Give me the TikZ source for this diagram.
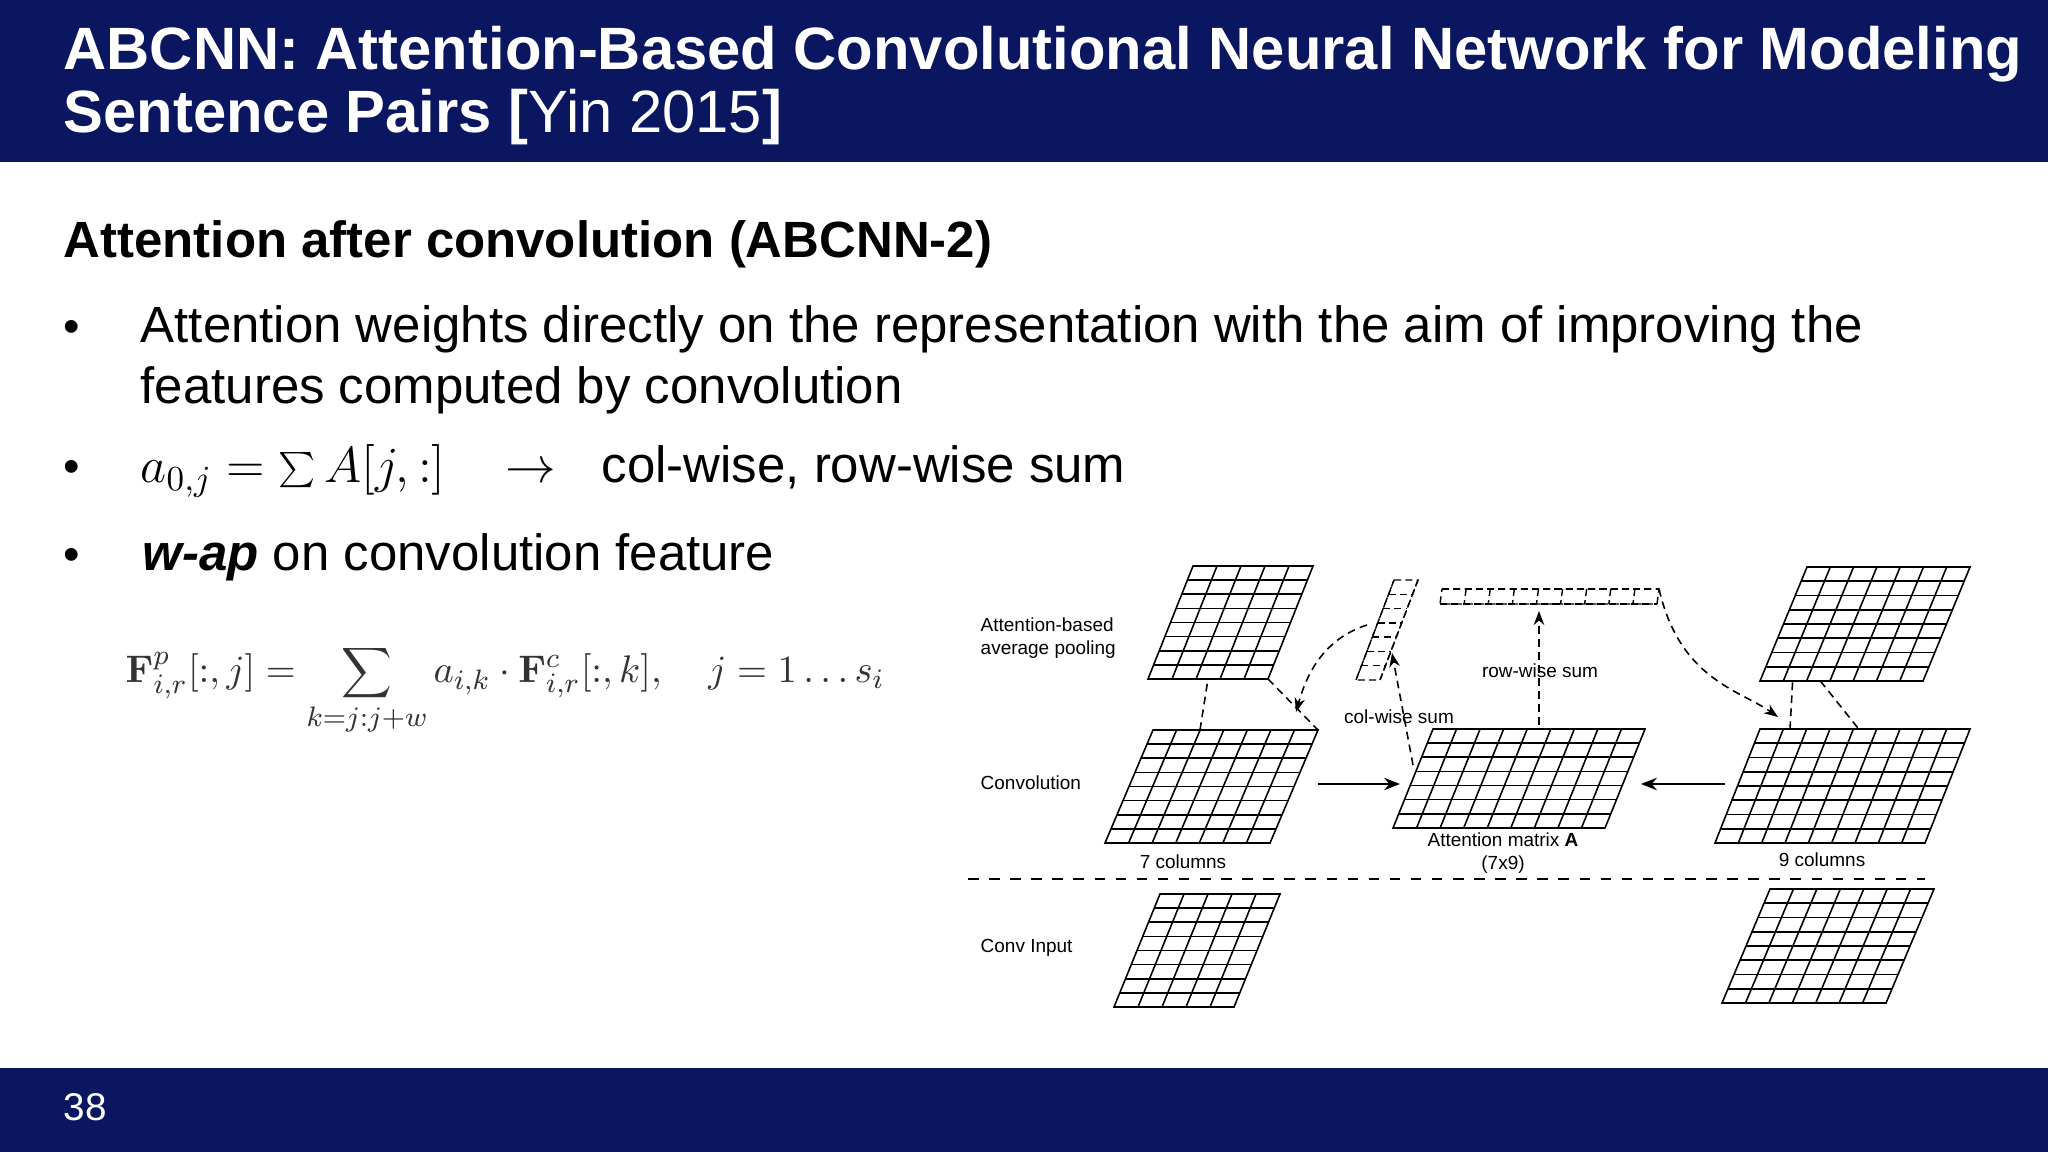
\documentclass[tikz,border=0pt]{standalone}
\usepackage[no-math]{fontspec}
\setmainfont{Liberation Sans}
\usetikzlibrary{calc,arrows.meta}
\definecolor{navy}{RGB}{10,22,96}
\newcommand\pgrid[6]{%
  \draw[gridline] (#1) -- (#2) -- (#4) -- (#3) -- cycle;
  \foreach \i in {1,...,\numexpr#5-1\relax}{\draw[gridline] ($(#1)!\i/#5!(#2)$) -- ($(#3)!\i/#5!(#4)$);}
  \foreach \j in {1,...,\numexpr#6-1\relax}{\draw[gridline] ($(#1)!\j/#6!(#3)$) -- ($(#2)!\j/#6!(#4)$);}
}
\newcommand\dgrid[6]{%
  \draw[dgridline] (#1) -- (#2) -- (#4) -- (#3) -- cycle;
  \foreach \i in {1,...,\numexpr#5-1\relax}{\draw[dgridline] ($(#1)!\i/#5!(#2)$) -- ($(#3)!\i/#5!(#4)$);}
  \foreach \j in {1,...,\numexpr#6-1\relax}{\draw[dgridline] ($(#1)!\j/#6!(#3)$) -- ($(#2)!\j/#6!(#4)$);}
}
\begin{document}
\begin{tikzpicture}[x=0.1mm,y=-0.1mm,
  gridline/.style={line width=0.45pt},
  dgridline/.style={line width=0.4pt,dash pattern=on 2pt off 1.2pt},
  dline/.style={line width=0.45pt,dash pattern=on 2.2pt off 1.5pt},
  darr/.style={dline,-{Stealth[length=4pt,width=3pt]}},
  sarr/.style={line width=0.6pt,-{Stealth[length=4.5pt,width=3.5pt]}},
  lab/.style={font=\fontsize{5.4}{6.5}\selectfont,inner sep=0pt},
  body/.style={font=\fontsize{14.5}{17.5}\selectfont,anchor=base west,inner sep=0pt},
  bul/.style={font=\fontsize{13.4}{16}\selectfont,anchor=base,inner sep=0pt}]
\useasboundingbox (0,0) rectangle (2048,1152);
\fill[white] (0,0) rectangle (2048,1152);
\fill[navy] (0,0) rectangle (2048,162);
\fill[navy] (0,1068) rectangle (2048,1152);
\node (t1) [anchor=base west,inner sep=0pt,text=white,font=\fontsize{17}{18}\bfseries] at (63,70) {ABCNN: Attention-Based Convolutional Neural Network for Modeling};
\node (t2) [anchor=base west,inner sep=0pt,text=white,font=\fontsize{17}{18}\selectfont] at (63,133) {\textbf{Sentence Pairs [}Yin 2015\textbf{]}};
\node (pg) [anchor=base west,inner sep=0pt,text=white,font=\fontsize{11}{13}\selectfont] at (63,1121) {38};

\node (sub) [body,font=\fontsize{14.5}{16}\bfseries] at (63,258) {Attention after convolution (ABCNN-2)};
\node (b1) [bul] at (72,343) {•};
\node (l1) [body] at (140,343) {Attention weights directly on the representation with the aim of improving the};
\node (l1b) [body] at (140,404) {features computed by convolution};
\node (b2) [bul] at (72,483) {•};
\node (m2) [body] at (140,483) {$a_{0,j} = \sum A[j,:]$};
\node (ar2) [body] at (505,483) {$\rightarrow$};
\node (l2) [body] at (601,483) {col-wise, row-wise sum};
\node (b3) [bul] at (72,571) {•};
\node (l3) [body] at (142,571) {\textbf{\itshape w-ap} on convolution feature};
\node (fm) [anchor=base west,inner sep=0pt,text=black!80,font=\fontsize{11.4}{13}\selectfont] at (125,683)
  {$\mathbf{F}^{p}_{i,r}[:,j] = \displaystyle\sum_{k=j:j+w} a_{i,k}\cdot \mathbf{F}^{c}_{i,r}[:,k],\quad j=1\ldots s_i$};

% grids
\coordinate (pl1) at (1193,566); \coordinate (pl2) at (1313,566);
\coordinate (pl3) at (1148,679); \coordinate (pl4) at (1268,679);
\pgrid{pl1}{pl2}{pl3}{pl4}{5}{8}
\coordinate (pr1) at (1807,567); \coordinate (pr2) at (1970,567);
\coordinate (pr3) at (1760,681); \coordinate (pr4) at (1923,681);
\pgrid{pr1}{pr2}{pr3}{pr4}{7}{8}
\coordinate (cl1) at (1153,730); \coordinate (cl2) at (1318,730);
\coordinate (cl3) at (1105,843); \coordinate (cl4) at (1270,843);
\pgrid{cl1}{cl2}{cl3}{cl4}{7}{8}
\coordinate (am1) at (1433,729); \coordinate (am2) at (1645,729);
\coordinate (am3) at (1393,828); \coordinate (am4) at (1605,828);
\pgrid{am1}{am2}{am3}{am4}{9}{7}
\coordinate (cr1) at (1760,729); \coordinate (cr2) at (1970,729);
\coordinate (cr3) at (1715,843); \coordinate (cr4) at (1925,843);
\pgrid{cr1}{cr2}{cr3}{cr4}{9}{8}
\coordinate (il1) at (1160,894); \coordinate (il2) at (1280,894);
\coordinate (il3) at (1114,1007); \coordinate (il4) at (1234,1007);
\pgrid{il1}{il2}{il3}{il4}{5}{8}
\coordinate (ir1) at (1770,889); \coordinate (ir2) at (1934,889);
\coordinate (ir3) at (1722,1003); \coordinate (ir4) at (1886,1003);
\pgrid{ir1}{ir2}{ir3}{ir4}{7}{8}
% dashed vectors
\coordinate (cv1) at (1394,580); \coordinate (cv2) at (1418,580);
\coordinate (cv3) at (1356,680); \coordinate (cv4) at (1380,680);
\dgrid{cv1}{cv2}{cv3}{cv4}{1}{7}
\coordinate (rv1) at (1442,589); \coordinate (rv2) at (1659,589);
\coordinate (rv3) at (1440,604); \coordinate (rv4) at (1657,604);
\dgrid{rv1}{rv2}{rv3}{rv4}{9}{1}

\draw[dline] (1200,730) -- ($(pl3)!0.5!(pl4)$);
\draw[dline] (pl4) -- (cl2);
\draw[dline] (1790,729) -- ($(pr3)!0.2!(pr4)$);
\draw[dline] ($(pr3)!0.37!(pr4)$) -- ($(cr1)!0.47!(cr2)$);
\draw[dashed,line width=0.5pt] (968,879) -- (1925,879);

\coordinate (ca) at (1296,712);
\coordinate (rr) at (1778,717);
\draw[sarr] (1318,784) -- (1400,784);
\draw[sarr] (1725,784) -- (1641,784);
\draw[darr] (1539,725) -- (1539,611);
\draw[darr] (1413,765) -- (1392,653);
\draw[darr] (1367,625) .. controls (1320,640) and (1305,680) .. (ca);
\draw[darr] (rv2) .. controls (1680,680) and (1740,690) .. (rr);

\node (tap) [lab,align=left,anchor=west] at (980,638) {Attention-based\\average pooling};
\node (tcv) [lab,anchor=west] at (980,783) {Convolution};
\node (tci) [lab,anchor=west] at (980,948) {Conv Input};
\node (t7) [lab] at (1183,862) {7 columns};
\node (tam) [lab,align=center] at (1503,853) {Attention matrix \textbf{A}\\(7x9)};
\node (t9) [lab] at (1822,860) {9 columns};
\node (trw) [lab] at (1540,671) {row-wise sum};
\node (tcw) [lab] at (1399,717) {col-wise sum};
\end{tikzpicture}
\end{document}
